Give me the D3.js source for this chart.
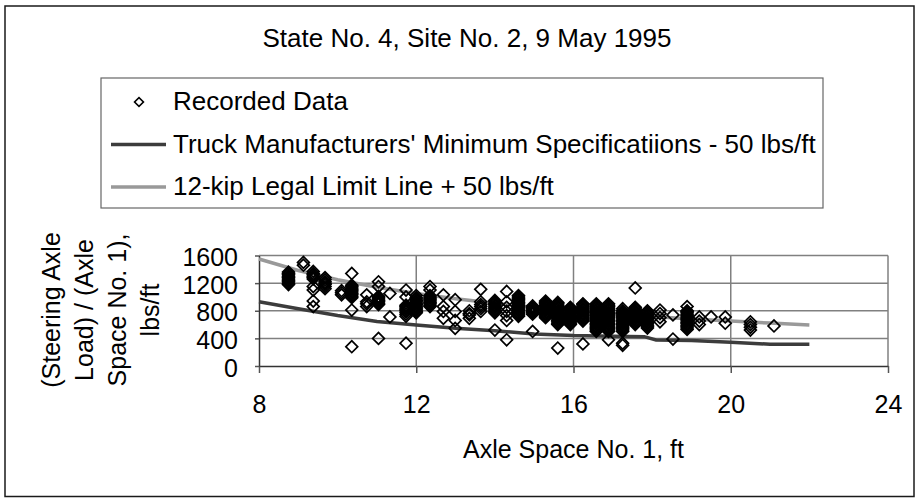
<!DOCTYPE html>
<html>
<head>
<meta charset="utf-8">
<script src="https://cdn.jsdelivr.net/npm/d3@7"></script>
<style>
  body { margin: 0; background: #fff; }
  svg text { font-family: "Liberation Sans", Arial, sans-serif; fill: #000; }
</style>
</head>
<body>
<div id="chart"></div>
<script>
// Recorded data: axle space no. 1 (ft) for each stack, and the loads (lbs/ft) at that spacing
const spacingFt = [8.75, 9.13, 9.38, 9.68, 10.1, 10.36, 10.74, 11.04, 11.33, 11.74, 12.0, 12.35,
    12.69, 12.99, 13.35, 13.64, 14.0, 14.3, 14.6, 14.96, 15.29, 15.6, 15.92, 16.24, 16.58, 16.89,
    17.25, 17.57, 17.88, 18.2, 18.53, 18.89, 19.2, 19.5, 19.86, 20.5, 21.1];
const loadsLbsFt = [
    [1180, 1200, 1220, 1240, 1260, 1280, 1300, 1320, 1340, 1360],
    [1460, 1500],
    [860, 940, 1100, 1150, 1260, 1280, 1300, 1320, 1340, 1370],
    [1120, 1150, 1180, 1200, 1220, 1250, 1280],
    [1030, 1060, 1090],
    [280, 810, 990, 1010, 1030, 1050, 1070, 1090, 1110, 1130, 1150, 1170, 1340],
    [860, 900, 930, 1030],
    [400, 890, 910, 930, 950, 970, 990, 1010, 1150, 1220],
    [710, 1050],
    [330, 720, 750, 780, 800, 820, 840, 860, 880, 1000, 1100],
    [770, 790, 810, 830, 850, 870, 890, 910, 930, 950, 970, 990, 1020],
    [860, 880, 900, 920, 940, 960, 980, 1000, 1020, 1100, 1150],
    [690, 790, 860, 1030],
    [545, 660, 790, 960],
    [690, 740, 760, 800],
    [790, 830, 860, 890, 930, 1110],
    [520, 770, 790, 810, 830, 850, 870, 890, 910, 930, 950],
    [380, 660, 730, 790, 850, 930, 1080],
    [720, 740, 760, 780, 800, 820, 840, 860, 880, 900, 920, 940, 960, 980, 1000, 1020],
    [500, 750, 770, 790, 810, 830, 850, 870],
    [700, 720, 740, 760, 780, 800, 820, 840, 860, 880, 900, 920, 940],
    [260, 600, 620, 640, 660, 680, 700, 720, 740, 760, 780, 800, 820, 840, 860, 880, 900, 920],
    [600, 620, 640, 660, 680, 700, 720, 740, 760, 780, 800, 820, 840, 850],
    [320, 650, 670, 690, 710, 730, 750, 770, 790, 810, 830, 850, 870, 890, 900],
    [500, 520, 540, 560, 580, 600, 620, 640, 660, 680, 700, 720, 740, 760, 780, 800, 820, 840, 860, 880, 900],
    [380, 500, 520, 540, 560, 580, 600, 620, 640, 660, 680, 700, 720, 740, 760, 780, 800, 820, 840, 860, 880, 900],
    [300, 330, 500, 520, 540, 560, 580, 600, 620, 640, 660, 680, 700, 720, 740, 760, 780, 800, 830],
    [600, 620, 640, 660, 680, 700, 720, 740, 760, 780, 800, 820, 840, 850, 1130],
    [550, 570, 590, 610, 630, 650, 670, 690, 710, 730, 750, 770, 790, 800],
    [640, 700, 760, 810],
    [390, 740],
    [530, 550, 570, 590, 610, 630, 650, 670, 690, 710, 730, 750, 770, 790, 800, 860],
    [600, 650, 710],
    [710],
    [620, 710],
    [520, 560, 600, 640],
    [580]
];

// Truck Manufacturers' Minimum Specifications - 50 lbs/ft
const minSpecX = [8, 9, 10, 11, 12, 13, 14, 15, 16, 17, 17.8, 18.1, 19, 20, 21, 22];
const minSpecY = [930, 830, 730, 645, 595, 545, 510, 465, 440, 432, 425, 378, 368, 345, 315, 314];

// 12-kip Legal Limit Line + 50 lbs/ft
const legalX = [8, 9, 10, 11, 12, 13, 14, 15, 16, 17, 18, 19, 20, 21, 22];
const legalY = [1550, 1383, 1250, 1141, 1050, 973, 907, 850, 800, 756, 717, 682, 650, 621, 595];

const xTicks = [8, 12, 16, 20, 24];
const yTicks = [0, 400, 800, 1200, 1600];

const width = 916, height = 498;
const darkLine = "#3c3c3c", lightLine = "#999999", gridColor = "#808080";

const svg = d3.select("#chart").append("svg")
    .attr("width", width)
    .attr("height", height);

// chart border
svg.append("rect")
    .attr("x", 5).attr("y", 6)
    .attr("width", 909).attr("height", 490.5)
    .attr("fill", "#fff")
    .attr("stroke", "#1a1a1a")
    .attr("stroke-width", 1.5);

svg.append("text")
    .attr("x", 467).attr("y", 47)
    .attr("text-anchor", "middle")
    .style("font-size", "26px")
    .text("State No. 4, Site No. 2, 9 May 1995");

// legend
const legend = svg.append("g").attr("class", "legend");
legend.append("rect")
    .attr("x", 101).attr("y", 78)
    .attr("width", 722).attr("height", 130)
    .attr("fill", "none")
    .attr("stroke", "#666")
    .attr("stroke-width", 1.2);

const legendRows = [
    {label: "Recorded Data", type: "point"},
    {label: "Truck Manufacturers' Minimum Specificatiions - 50 lbs/ft", type: "line", color: darkLine},
    {label: "12-kip Legal Limit Line + 50 lbs/ft", type: "line", color: lightLine}
];
legendRows.forEach((row, i) => {
    const base = 110 + i * 42.5;
    if (row.type === "point") {
        legend.append("path")
            .attr("d", d3.symbol(d3.symbolSquare, 40)())
            .attr("transform", `translate(139,${base - 8}) rotate(45)`)
            .attr("fill", "none")
            .attr("stroke", "#000")
            .attr("stroke-width", 1.6);
    } else {
        legend.append("line")
            .attr("x1", 111).attr("x2", 166)
            .attr("y1", base - 8).attr("y2", base - 8)
            .attr("stroke", row.color)
            .attr("stroke-width", 3.5);
    }
    legend.append("text")
        .attr("x", 173).attr("y", base)
        .style("font-size", "26px")
        .text(row.label);
});

// scales
const x = d3.scaleLinear().domain([8, 24]).range([259, 888]);
const y = d3.scaleLinear().domain([0, 1600]).range([366, 255.5]);

// gridlines
const grid = svg.append("g").attr("class", "grid");
grid.selectAll(".hgrid").data(yTicks.slice(1)).enter().append("line")
    .attr("x1", x(8)).attr("x2", x(24))
    .attr("y1", d => y(d)).attr("y2", d => y(d))
    .attr("stroke", gridColor).attr("stroke-width", 1.5);
grid.selectAll(".vgrid").data(xTicks.slice(1)).enter().append("line")
    .attr("x1", d => x(d)).attr("x2", d => x(d))
    .attr("y1", y(0)).attr("y2", y(1600))
    .attr("stroke", gridColor).attr("stroke-width", 1.5);

// axes
const xAxis = svg.append("g")
    .attr("transform", `translate(0,${y(0)})`)
    .call(d3.axisBottom(x).tickValues(xTicks).tickFormat(d3.format("d"))
        .tickSizeInner(7).tickSizeOuter(0).tickPadding(22));
const yAxis = svg.append("g")
    .attr("transform", `translate(${x(8)},0)`)
    .call(d3.axisLeft(y).tickValues(yTicks).tickFormat(d3.format("d"))
        .tickSizeInner(4).tickSizeOuter(0).tickPadding(17));

[xAxis, yAxis].forEach(ax => {
    ax.select(".domain").attr("stroke", "#333").attr("stroke-width", 1.5);
    ax.selectAll(".tick line").attr("stroke", "#555").attr("stroke-width", 1.5);
    ax.selectAll(".tick text")
        .style("font-size", "25px")
        .style("font-family", '"Liberation Sans", Arial, sans-serif')
        .attr("fill", "#000");
});
yAxis.selectAll(".tick text").attr("dy", "0.4em");

// axis titles
svg.append("text")
    .attr("x", (x(8) + x(24)) / 2).attr("y", 458)
    .attr("text-anchor", "middle")
    .style("font-size", "25px")
    .text("Axle Space No. 1, ft");

const yTitle = ["(Steering Axle", "Load) / (Axle", "Space No. 1),", "lbs/ft"];
yTitle.forEach((line, i) => {
    const bx = 60 + i * 33;
    svg.append("text")
        .attr("transform", `translate(${bx},310) rotate(-90)`)
        .attr("text-anchor", "middle")
        .style("font-size", "25px")
        .text(line);
});

// lines
const lineGen = d3.line().x(d => x(d[0])).y(d => y(d[1]));
svg.append("path")
    .attr("d", lineGen(minSpecX.map((v, i) => [v, minSpecY[i]])))
    .attr("fill", "none")
    .attr("stroke", darkLine)
    .attr("stroke-width", 3.5);
svg.append("path")
    .attr("d", lineGen(legalX.map((v, i) => [v, legalY[i]])))
    .attr("fill", "none")
    .attr("stroke", lightLine)
    .attr("stroke-width", 3.5);

// recorded data points
const points = [];
spacingFt.forEach((s, i) => {
    loadsLbsFt[i].forEach(v => points.push({x: s, y: v}));
});
const diamond = d3.symbol(d3.symbolSquare, 70)();
svg.append("g").attr("class", "points")
    .selectAll("path").data(points).enter().append("path")
    .attr("d", diamond)
    .attr("transform", d => `translate(${x(d.x)},${y(d.y)}) rotate(45)`)
    .attr("fill", "none")
    .attr("stroke", "#000")
    .attr("stroke-width", 1.7);
</script>
</body>
</html>
